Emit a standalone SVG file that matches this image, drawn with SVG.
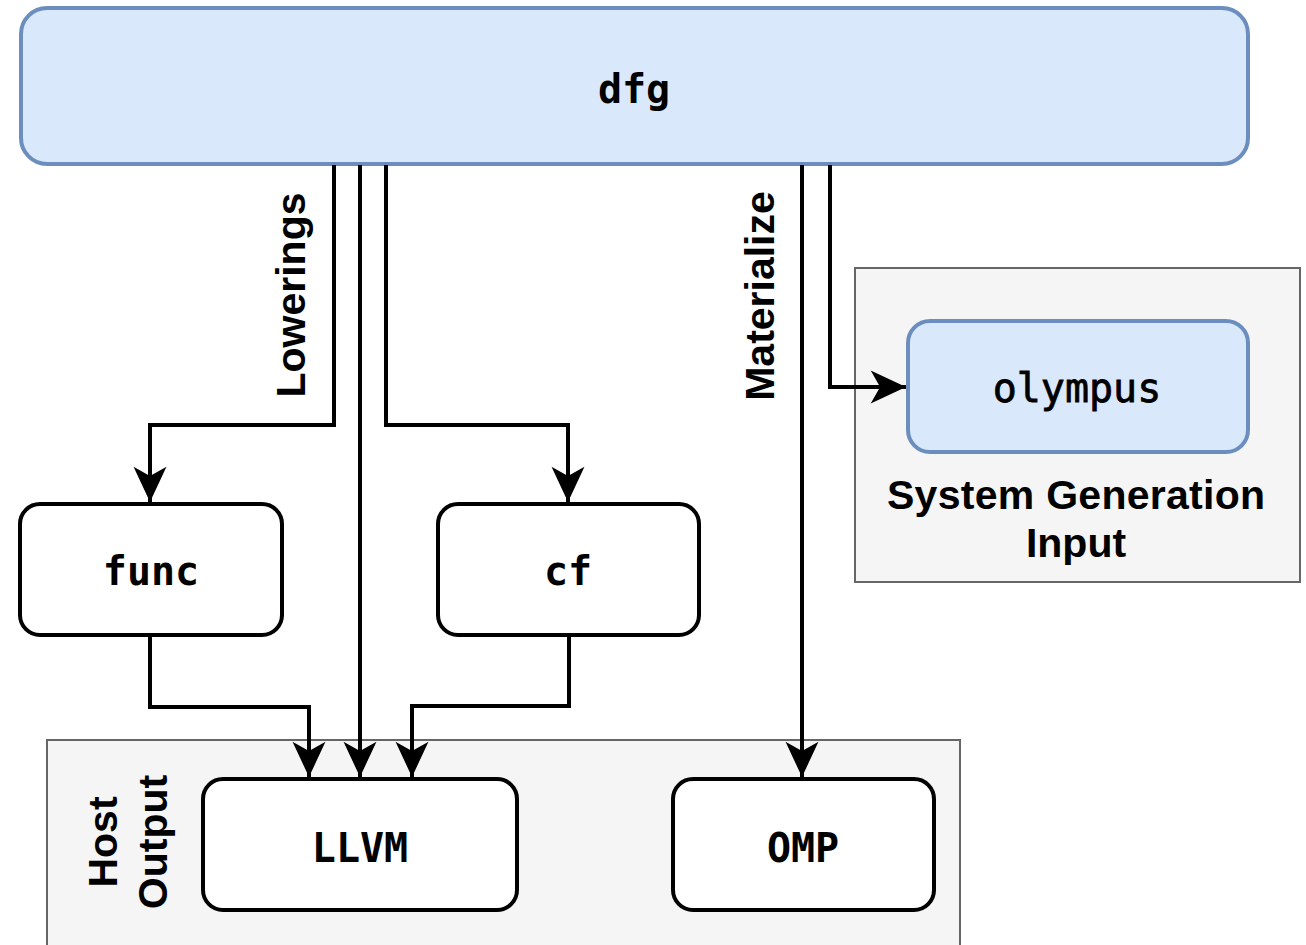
<svg xmlns="http://www.w3.org/2000/svg" width="1306" height="945" viewBox="0 0 1306 945">
<style>
.grp{fill:#f5f5f5;stroke:#666666;stroke-width:2}
.blue{fill:#dae8fc;stroke:#6c8ebf;stroke-width:4}
.box{fill:#ffffff;stroke:#000000;stroke-width:4}
.mono{font-family:"DejaVu Sans Mono","Liberation Mono",monospace;font-size:40px;font-weight:bold;fill:#000;text-anchor:middle}
.lbl{font-family:"Liberation Sans",Arial,sans-serif;font-size:41px;font-weight:bold;fill:#000;text-anchor:middle}
.edge{fill:none;stroke:#000;stroke-width:4;marker-end:url(#arr)}
</style>
<defs>
<marker id="arr" markerUnits="userSpaceOnUse" markerWidth="40" markerHeight="40" viewBox="-32 -16 34 32" refX="0" refY="0" orient="auto">
<path d="M0,0 L-30,-14 L-22,0 L-30,14 Z" fill="#000"/>
</marker>
</defs>
<rect width="1306" height="945" fill="#ffffff"/>
<g id="host-output">
<rect class="grp" x="47" y="740" width="913" height="215"/>
<text class="lbl" transform="translate(117,842) rotate(-90)">Host</text>
<text class="lbl" transform="translate(167,842) rotate(-90)">Output</text>
</g>
<g id="system-generation">
<rect class="grp" x="855" y="268" width="445" height="314"/>
<text class="lbl" x="1076" y="509" textLength="378" lengthAdjust="spacing">System Generation</text>
<text class="lbl" x="1076" y="557">Input</text>
</g>
<g id="dfg">
<rect class="blue" x="21" y="8" width="1227" height="156" rx="26"/>
<text class="mono" x="634" y="103">dfg</text>
</g>
<g id="func">
<rect class="box" x="20" y="504" width="262" height="131" rx="20"/>
<text class="mono" x="151" y="585">func</text>
</g>
<g id="cf">
<rect class="box" x="438" y="504" width="261" height="131" rx="20"/>
<text class="mono" x="568" y="585">cf</text>
</g>
<g id="olympus">
<rect class="blue" x="908" y="321" width="340" height="131" rx="22"/>
<text class="mono" style="font-weight:normal;stroke:#000;stroke-width:0.8" x="1077" y="402">olympus</text>
</g>
<g id="llvm">
<rect class="box" x="203" y="779" width="314" height="131" rx="20"/>
<text class="mono" x="360" y="862">LLVM</text>
</g>
<g id="omp">
<rect class="box" x="673" y="779" width="261" height="131" rx="20"/>
<text class="mono" x="803" y="862">OMP</text>
</g>
<g id="connectors">
<path class="edge" d="M334,165 V425 H150 V502"/>
<path class="edge" d="M360,165 V777"/>
<path class="edge" d="M386,165 V425 H568 V502"/>
<path class="edge" d="M150,636 V707 H309 V777"/>
<path class="edge" d="M569,636 V706 H412 V777"/>
<path class="edge" d="M802,165 V777"/>
<path class="edge" d="M830,165 V387 H906"/>
<text class="lbl" transform="translate(305,295) rotate(-90)">Lowerings</text>
<text class="lbl" transform="translate(774,296) rotate(-90)">Materialize</text>
</g>
</svg>
